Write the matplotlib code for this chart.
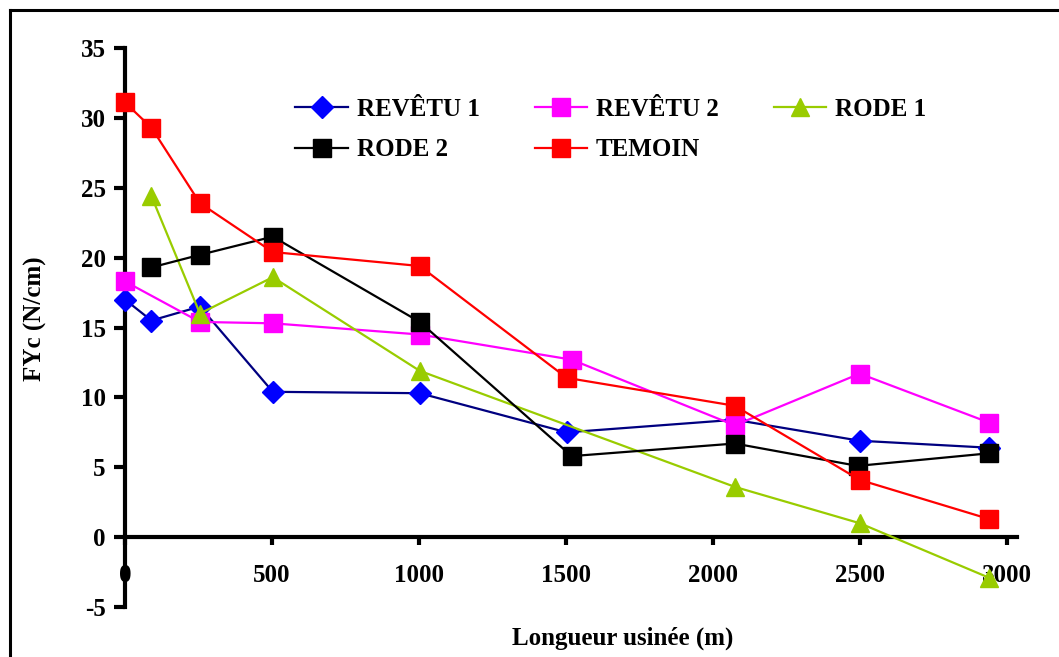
import numpy as np
import matplotlib
matplotlib.use('Agg')
import matplotlib.pyplot as plt
from matplotlib.lines import Line2D

plt.rcParams['font.family'] = 'Liberation Serif'
plt.rcParams['font.weight'] = 'bold'
plt.rcParams['axes.labelweight'] = 'bold'
plt.rcParams['font.size'] = 18
plt.rcParams['axes.unicode_minus'] = False

# data
x_rev1 = [0, 90, 255, 503, 1003, 1503, 2075, 2500, 2940]
y_rev1 = [17.0, 15.5, 16.5, 10.4, 10.3, 7.5, 8.4, 6.9, 6.4]

x_rev2 = [0, 255, 503, 1003, 1520, 2075, 2500, 2940]
y_rev2 = [18.3, 15.4, 15.3, 14.5, 12.7, 8.0, 11.7, 8.2]

x_rode1 = [90, 255, 503, 1003, 2075, 2500, 2940]
y_rode1 = [24.4, 16.0, 18.6, 11.9, 3.6, 1.0, -2.9]

x_rode2 = [90, 255, 503, 1003, 1520, 2075, 2493, 2940]
y_rode2 = [19.3, 20.2, 21.5, 15.4, 5.8, 6.7, 5.1, 6.0]

x_tem = [0, 90, 255, 503, 1003, 1503, 2075, 2500, 2940]
y_tem = [31.1, 29.3, 23.9, 20.4, 19.4, 11.4, 9.4, 4.1, 1.3]

xticks = [0, 500, 1000, 1500, 2000, 2500, 3000]
yticks = [-5, 0, 5, 10, 15, 20, 25, 30, 35]

fig = plt.figure(figsize=(10.59, 6.57), dpi=100)
ax = fig.add_axes([0.118, 0.076, 0.842, 0.851])

l1, = ax.plot(x_rev1, y_rev1, color='#000080', lw=1.6, marker='D', ms=11,
              mfc='#0000FF', mec='#0000FF', label='REVÊTU 1', clip_on=False)
l2, = ax.plot(x_rev2, y_rev2, color='#FF00FF', lw=1.6, marker='s', ms=13,
              mfc='#FF00FF', mec='#FF00FF', label='REVÊTU 2', clip_on=False)
l3, = ax.plot(x_rode1, y_rode1, color='#99CC00', lw=1.6, marker='^', ms=13,
              mfc='#99CC00', mec='#99CC00', label='RODE 1', clip_on=False)
l4, = ax.plot(x_rode2, y_rode2, color='black', lw=1.6, marker='s', ms=13,
              mfc='black', mec='black', label='RODE 2', clip_on=False)
l5, = ax.plot(x_tem, y_tem, color='#FF0000', lw=1.6, marker='s', ms=13,
              mfc='#FF0000', mec='#FF0000', label='TEMOIN', clip_on=False)

ax.set_xlim(0, 3034)
ax.set_ylim(-5, 35)
ax.spines['top'].set_visible(False)
ax.spines['right'].set_visible(False)
ax.spines['bottom'].set_position(('data', 0))
ax.spines['left'].set_linewidth(3)
ax.spines['bottom'].set_linewidth(3)
# spines over the tick labels, under the data
ax.spines['left'].set_zorder(1.8)
ax.spines['bottom'].set_zorder(1.8)

ax.set_xticks(xticks)
ax.set_yticks(yticks)
ax.tick_params(axis='x', direction='out', length=6, width=3, pad=13)
ax.tick_params(axis='y', direction='out', length=8, width=3, pad=6)
for t in ax.get_xticklabels() + ax.get_yticklabels():
    t.set_fontweight('bold')

ax.set_xlabel('Longueur usinée (m)', fontsize=18, fontweight='bold')
ax.xaxis.set_label_coords(0.558, -0.035)
ax.set_ylabel('FYc (N/cm)', fontsize=18, fontweight='bold')
ax.yaxis.set_label_coords(-0.087, 0.515)

ax.legend([l1, l4, l2, l5, l3], ['REVÊTU 1', 'RODE 2', 'REVÊTU 2', 'TEMOIN', 'RODE 1'],
          ncol=3, frameon=False, loc='upper left', bbox_to_anchor=(0.279, 0.851),
          bbox_transform=fig.transFigure, borderpad=0, borderaxespad=0,
          handlelength=2.1, handletextpad=0.35, columnspacing=2.2, labelspacing=0.7,
          fontsize=18)

# frame of the original picture (top and left edges only visible)
fig.add_artist(Line2D([0.0095, 1.0], [0.985, 0.985], color='black', lw=2.2,
                      transform=fig.transFigure))
fig.add_artist(Line2D([0.0095, 0.0095], [0.0, 0.985], color='black', lw=2.2,
                      transform=fig.transFigure))

fig.savefig('out.png', dpi=100)
